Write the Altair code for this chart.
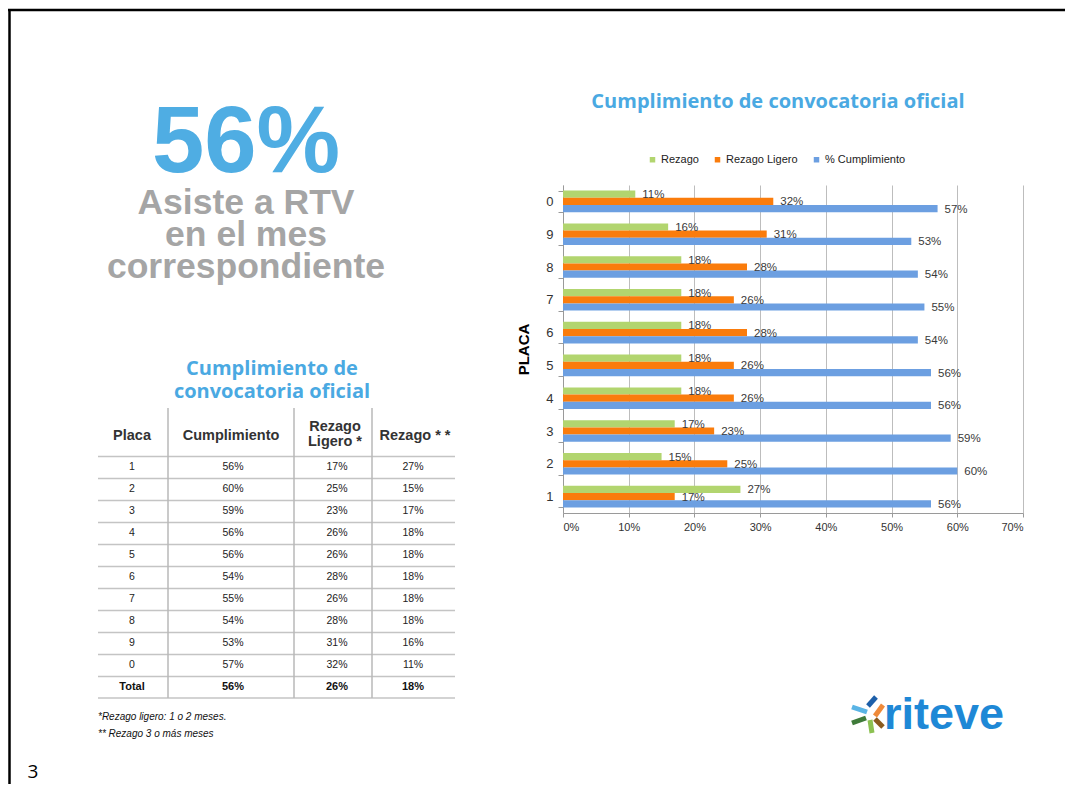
import altair as alt
import pandas as pd

# ---------------- data ----------------
placas = ["1", "2", "3", "4", "5", "6", "7", "8", "9", "0"]
cumplimiento = [56, 60, 59, 56, 56, 54, 55, 54, 53, 57]
rezago_ligero = [17, 25, 23, 26, 26, 28, 26, 28, 31, 32]
rezago = [27, 15, 17, 18, 18, 18, 18, 18, 16, 11]
series = ["Rezago", "Rezago Ligero", "% Cumplimiento"]
series_colors = ["#b2d56f", "#fa7c0c", "#6c9fe1"]
x_ticks = [0, 10, 20, 30, 40, 50, 60, 70]

total_label = "Total"
total_values = [56, 26, 18]  # cumplimiento, rezago ligero, rezago

chart_title = "Cumplimiento de convocatoria oficial"
axis_title = "PLACA"
big_number = "56%"
big_caption = ["Asiste a RTV", "en el mes", "correspondiente"]
table_title = ["Cumplimiento de", "convocatoria oficial"]
table_headers = ["Placa", "Cumplimiento", ["Rezago", "Ligero *"], "Rezago * *"]
footnotes = ["*Rezago ligero: 1 o 2 meses.", "** Rezago 3 o más meses"]
page_number = "3"
logo_text = "riteve"

# ---------------- layout helpers ----------------
FONT = "Liberation Sans"
TFONT = "Open Sans"
OX, OY = 563, 185          # plot origin on the page
W, H = 460, 328
TOTAL_W, TOTAL_H = 1057, 776


def px(x):
    return x - OX


def py(y):
    return y - OY


ONE = alt.Data(values=[{}])


def label(text, x, y, **kw):
    kw.setdefault("baseline", "alphabetic")
    return alt.Chart(ONE).mark_text(text=text, **kw).encode(
        x=alt.value(px(x)), y=alt.value(py(y)))


def line(x1, y1, x2, y2, color, width):
    return alt.Chart(ONE).mark_rule(color=color, strokeWidth=width).encode(
        x=alt.value(px(x1)), x2=alt.value(px(x2)),
        y=alt.value(py(y1)), y2=alt.value(py(y2)))


# ---------------- bar chart ----------------
rows = []
for p, c, l, r in zip(placas, cumplimiento, rezago_ligero, rezago):
    rows.append({"placa": p, "serie": series[0], "valor": r})
    rows.append({"placa": p, "serie": series[1], "valor": l})
    rows.append({"placa": p, "serie": series[2], "valor": c})
bdf = pd.DataFrame(rows)
bdf["lab"] = bdf["valor"].astype(str) + "%"

y_order = list(reversed(placas))

Yenc = alt.Y(
    "placa:N",
    scale=alt.Scale(domain=y_order, paddingInner=0.34, paddingOuter=0.17),
    axis=alt.Axis(title=axis_title, titleFont=FONT, titleFontSize=15,
                  titleFontWeight="bold", titleColor="#000", titlePadding=14,
                  labelFont=FONT, labelFontSize=13, labelColor="#333",
                  labelPadding=5, tickBand="extent", tickSize=5,
                  tickColor="#9a9a9a", domainColor="#9a9a9a"),
)
Yoff = alt.YOffset("serie:N", scale=alt.Scale(domain=series, paddingInner=0,
                                               paddingOuter=0))
Xenc = alt.X(
    "valor:Q",
    scale=alt.Scale(domain=[0, 70]),
    axis=alt.Axis(values=x_ticks, labelExpr="datum.value + '%'", title=None,
                  grid=True, gridColor="#bdbdbd", gridWidth=1,
                  tickSize=4, tickColor="#9a9a9a", domainColor="#9a9a9a",
                  labelFont=FONT, labelFontSize=11, labelColor="#333",
                  labelPadding=4),
)

bars = alt.Chart(bdf).mark_bar().encode(
    y=Yenc, yOffset=Yoff, x=Xenc,
    color=alt.Color(
        "serie:N",
        scale=alt.Scale(domain=series, range=series_colors),
        legend=alt.Legend(orient="none", legendX=84, legendY=-31,
                          direction="horizontal", title=None,
                          symbolType="square", symbolSize=30,
                          labelFont=FONT, labelFontSize=11, labelColor="#222",
                          labelOffset=3, columnPadding=13),
    ),
)
bar_labels = alt.Chart(bdf).mark_text(
    align="left", baseline="middle", dx=7, dy=1, font=FONT, fontSize=11.5,
    color="#3a3a3a").encode(y=Yenc, yOffset=Yoff, x=Xenc, text="lab:N")

bar_chart = alt.layer(bars, bar_labels)

# ---------------- table ----------------
table_rows = placas + [total_label]
tdf = pd.DataFrame({
    "fila": table_rows,
    "placa": table_rows,
    "cumpl": [f"{v}%" for v in cumplimiento + [total_values[0]]],
    "lig": [f"{v}%" for v in rezago_ligero + [total_values[1]]],
    "rez": [f"{v}%" for v in rezago + [total_values[2]]],
})
row_y = alt.Y("fila:N", scale=alt.Scale(type="point", domain=table_rows,
                                        range=[py(467), py(687)], padding=0),
              axis=None)

table_layers = []
col_pos = [("placa", 132), ("cumpl", 233), ("lig", 337), ("rez", 413)]
for field, xc in col_pos:
    table_layers.append(
        alt.Chart(tdf).transform_filter(f"datum.fila != '{total_label}'")
        .mark_text(font=FONT, fontSize=10.5, color="#222", baseline="middle")
        .encode(x=alt.value(px(xc)), y=row_y, text=f"{field}:N"))
    table_layers.append(
        alt.Chart(tdf).transform_filter(f"datum.fila == '{total_label}'")
        .mark_text(font=FONT, fontSize=11, fontWeight="bold", color="#111",
                   baseline="middle")
        .encode(x=alt.value(px(xc)), y=row_y, text=f"{field}:N"))

# horizontal lines (above every row, plus bottom of total row)
table_layers.append(
    alt.Chart(tdf).mark_rule(color="#c4c4c4", strokeWidth=1.5, yOffset=-10.5)
    .encode(y=row_y, x=alt.value(px(98)), x2=alt.value(px(455))))
table_layers.append(
    alt.Chart(tdf).transform_filter(f"datum.fila == '{total_label}'")
    .mark_rule(color="#c4c4c4", strokeWidth=1.5, yOffset=11)
    .encode(y=row_y, x=alt.value(px(98)), x2=alt.value(px(455))))

table = alt.layer(*table_layers)

# ---------------- decorations ----------------
deco = []
# slide frame
deco.append(line(8, 10, 1065, 10, "#000", 2.5))
deco.append(line(9.5, 10, 9.5, 784, "#000", 2.5))
# table vertical separators
for xv in [168, 294, 372]:
    deco.append(line(xv, 408, xv, 698, "#b8b8b8", 1.5))

deco.append(label(chart_title, 778, 108, font=TFONT, fontSize=20,
                  fontWeight="bold", color="#4aa9e2", align="center"))
deco.append(label(big_number, 246, 172, font=FONT, fontSize=94,
                  fontWeight="bold", color="#4fade3", align="center"))
deco.append(label(big_caption, 246, 214, font=FONT, fontSize=35.5,
                  fontWeight="bold", color="#a5a5a5", align="center",
                  lineHeight=32))
deco.append(label(table_title, 272, 375, font=TFONT, fontSize=20,
                  fontWeight="bold", color="#4aa9e2", align="center",
                  lineHeight=23))
head_x = [132, 231, 335, 415]
for htxt, hx in zip(table_headers, head_x):
    hy = 431 if isinstance(htxt, list) else 440
    deco.append(label(htxt, hx, hy, font=FONT, fontSize=14.5,
                      fontWeight="bold", color="#333", align="center",
                      lineHeight=15))
deco.append(label(footnotes, 98, 720, font=FONT, fontSize=10,
                  fontStyle="italic", color="#111", align="left",
                  lineHeight=17))
deco.append(label(page_number, 33, 778, font=TFONT, fontSize=19,
                  color="#000", align="center"))

# logo
petals = [
    ((876, 697), (868, 706), "#1d5fa9"),
    ((852, 707), (867, 712), "#5ab4e5"),
    ((883, 705), (875, 716), "#ef8a3a"),
    ((875, 719), (883, 727), "#8b5a1e"),
    ((870, 720), (872, 733), "#8cc152"),
    ((852, 723), (866, 718), "#3f7b3a"),
]
for (a, b, col) in petals:
    deco.append(line(a[0], a[1], b[0], b[1], col, 5))
deco.append(label(logo_text, 884, 729, font=FONT, fontSize=45,
                  fontWeight="bold", color="#1e88d6", align="left"))

chart = alt.layer(bar_chart, table, *deco).resolve_scale(
    y="independent"
).properties(
    width=W, height=H,
    autosize=alt.AutoSizeParams(type="none"),
    padding={"left": OX - 8, "top": OY - 8,
             "right": TOTAL_W - (OX - 8) - W,
             "bottom": TOTAL_H - (OY - 8) - H},
    background="white",
).configure_view(stroke=None)

chart.save("out.html", embed_options={"renderer": "svg", "actions": False})
